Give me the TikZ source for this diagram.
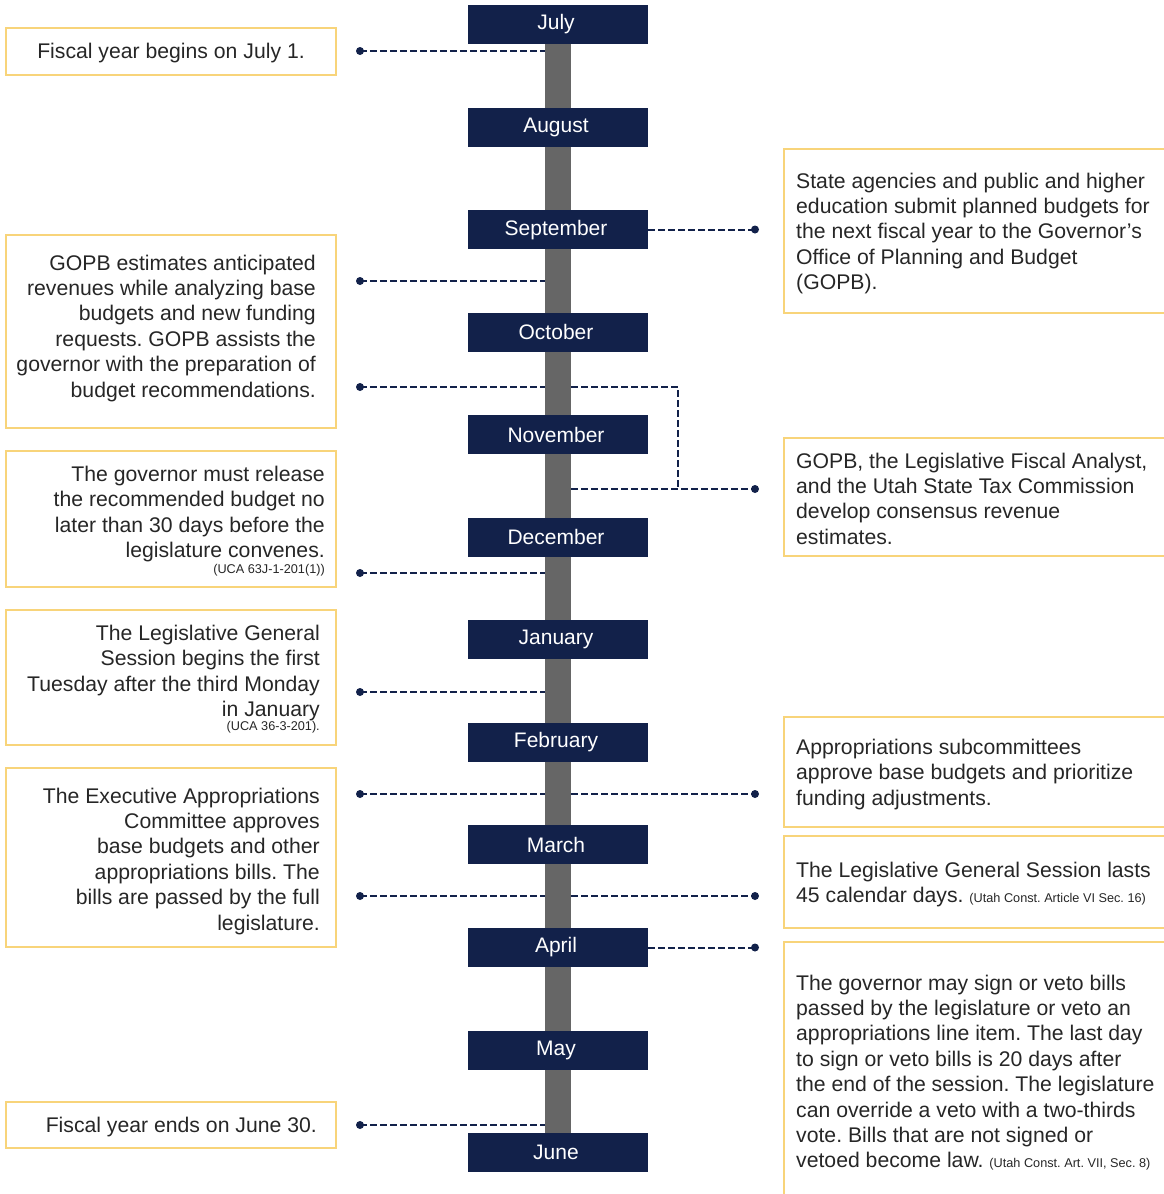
\documentclass[tikz,border=0pt]{standalone}
\usepackage{fontspec}
\setmainfont{Liberation Sans}
\frenchspacing
\definecolor{navy}{HTML}{12214A}
\definecolor{barg}{HTML}{666666}
\definecolor{gold}{HTML}{F8D47A}
\definecolor{txt}{HTML}{262626}
\newcommand{\citesize}{\fontsize{12.7}{14}\selectfont}
\begin{document}
\begin{tikzpicture}[x=1pt,y=-1pt,
  month/.style={fill=navy, minimum width=180pt, minimum height=39pt, inner sep=0pt, text=white, font=\fontsize{21}{25}\selectfont},
  infobox/.style={draw=gold, line width=1.3pt},
  ltext/.style={inner sep=0pt, anchor=north east, align=right, text=txt, font=\fontsize{21.2}{25.4}\selectfont},
  rtext/.style={inner sep=0pt, anchor=north west, align=left, text=txt, font=\fontsize{21.2}{25.4}\selectfont},
  stext/.style={inner sep=0pt, text=txt, font=\fontsize{21.2}{25.4}\selectfont},
  citetext/.style={inner sep=0pt, anchor=base east, text=txt, font=\citesize},
  conn/.style={draw=navy, line width=2pt, dash pattern=on 6.5pt off 3.5pt},
]
\useasboundingbox (0,0) rectangle (1164,1194);
\clip (0,0) rectangle (1164,1194);

% timeline bar
\node[fill=barg, minimum width=26pt, minimum height=1089pt, inner sep=0pt] (bar) at (558,588.5) {};

% info boxes (left)
\draw[infobox] (6,28) rectangle (336,75);
\draw[infobox] (6,235) rectangle (336,428);
\draw[infobox] (6,451) rectangle (336,587);
\draw[infobox] (6,610) rectangle (336,745);
\draw[infobox] (6,768) rectangle (336,947);
\draw[infobox] (6,1102) rectangle (336,1148);
% info boxes (right)
\draw[infobox] (784,149) rectangle (1172,313);
\draw[infobox] (784,438) rectangle (1172,556);
\draw[infobox] (784,717) rectangle (1172,827);
\draw[infobox] (784,836) rectangle (1172,928);
\draw[infobox] (784,942) rectangle (1172,1200);

% connector end points
\coordinate (pjul) at (360,51);
\coordinate (paug) at (360,281);
\coordinate (poct) at (360,387);
\coordinate (pdec) at (360,573);
\coordinate (pjan) at (360,692);
\coordinate (pfebl) at (360,794);
\coordinate (pmarl) at (360,896);
\coordinate (pjun) at (360,1125);
\coordinate (psep) at (755,229.5);
\coordinate (pnov) at (755,489);
\coordinate (knee) at (678,387);
\coordinate (pfebr) at (755,794);
\coordinate (pmarr) at (755,896);
\coordinate (papr) at (755,947.5);

% month boxes
\foreach \m/\lab [count=\i from 0] in {jul/July,aug/August,sep/September,oct/October,nov/November,dec/December,jan/January,feb/February,mar/March,apr/April,may/May,jun/June}{
  \node[month] (\m) at (558,{24.5+102.55*\i}) {\hspace*{-4pt}\lab};
}

% connectors
\foreach \p in {pjul,paug,poct,pdec,pjan,pfebl,pmarl,pjun}{
  \draw[conn] (\p) -- (\p -| bar.west);
}
\draw[conn] (sep.east |- psep) -- (psep);
\draw[conn] (apr.east |- papr) -- (papr);
\draw[conn] (bar.east |- pfebr) -- (pfebr);
\draw[conn] (bar.east |- pmarr) -- (pmarr);
\draw[conn] (bar.east |- knee) -- (knee) -- (knee |- pnov);
\draw[conn] (bar.east |- pnov) -- (pnov);
\foreach \p in {pjul,paug,poct,pdec,pjan,pfebl,pmarl,pjun,psep,pnov,pfebr,pmarr,papr}{
  \fill[navy] (\p) circle (4pt);
}

% left texts
\node[stext, anchor=base] (tjul) at (171,58) {Fiscal year begins on July 1.};
\node[ltext] (tgopb) at (316,254.5) {GOPB estimates anticipated\\revenues while analyzing base\\budgets and new funding\\requests. GOPB assists the\\governor with the preparation of\\budget recommendations.};
\node[ltext] (tgov) at (325,466) {The governor must release\\the recommended budget no\\later than 30 days before the\\legislature convenes.};
\node[citetext] (cgov) at (325,573.5) {(UCA 63J-1-201(1))};
\node[ltext] (tleg) at (320,625) {The Legislative General\\Session begins the first\\Tuesday after the third Monday\\in January};
\node[citetext] (cleg) at (320,730.5) {(UCA 36-3-201).};
\node[ltext] (texec) at (320,787.5) {The Executive Appropriations\\Committee approves\\base budgets and other\\appropriations bills. The\\bills are passed by the full\\legislature.};
\node[stext, anchor=base east] (tjun) at (317,1132) {Fiscal year ends on June 30.};

% right texts
\node[rtext] (tstate) at (796,172.5) {State agencies and public and higher\\education submit planned budgets for\\the next fiscal year to the Governor’s\\Office of Planning and Budget\\(GOPB).};
\node[rtext] (tcons) at (796,452.5) {GOPB, the Legislative Fiscal Analyst,\\and the Utah State Tax Commission\\develop consensus revenue\\estimates.};
\node[rtext] (tsub) at (796,739) {Appropriations subcommittees\\approve base budgets and prioritize\\funding adjustments.};
\node[rtext] (tlast) at (796,862) {The Legislative General Session lasts\\45 calendar days. {\citesize (Utah Const. Article VI Sec. 16)}};
\node[rtext] (tsign) at (796,974.5) {The governor may sign or veto bills\\passed by the legislature or veto an\\appropriations line item. The last day\\to sign or veto bills is 20 days after\\the end of the session. The legislature\\can override a veto with a two-thirds\\vote. Bills that are not signed or\\vetoed become law. {\citesize (Utah Const. Art. VII, Sec. 8)}};
\end{tikzpicture}
\end{document}
